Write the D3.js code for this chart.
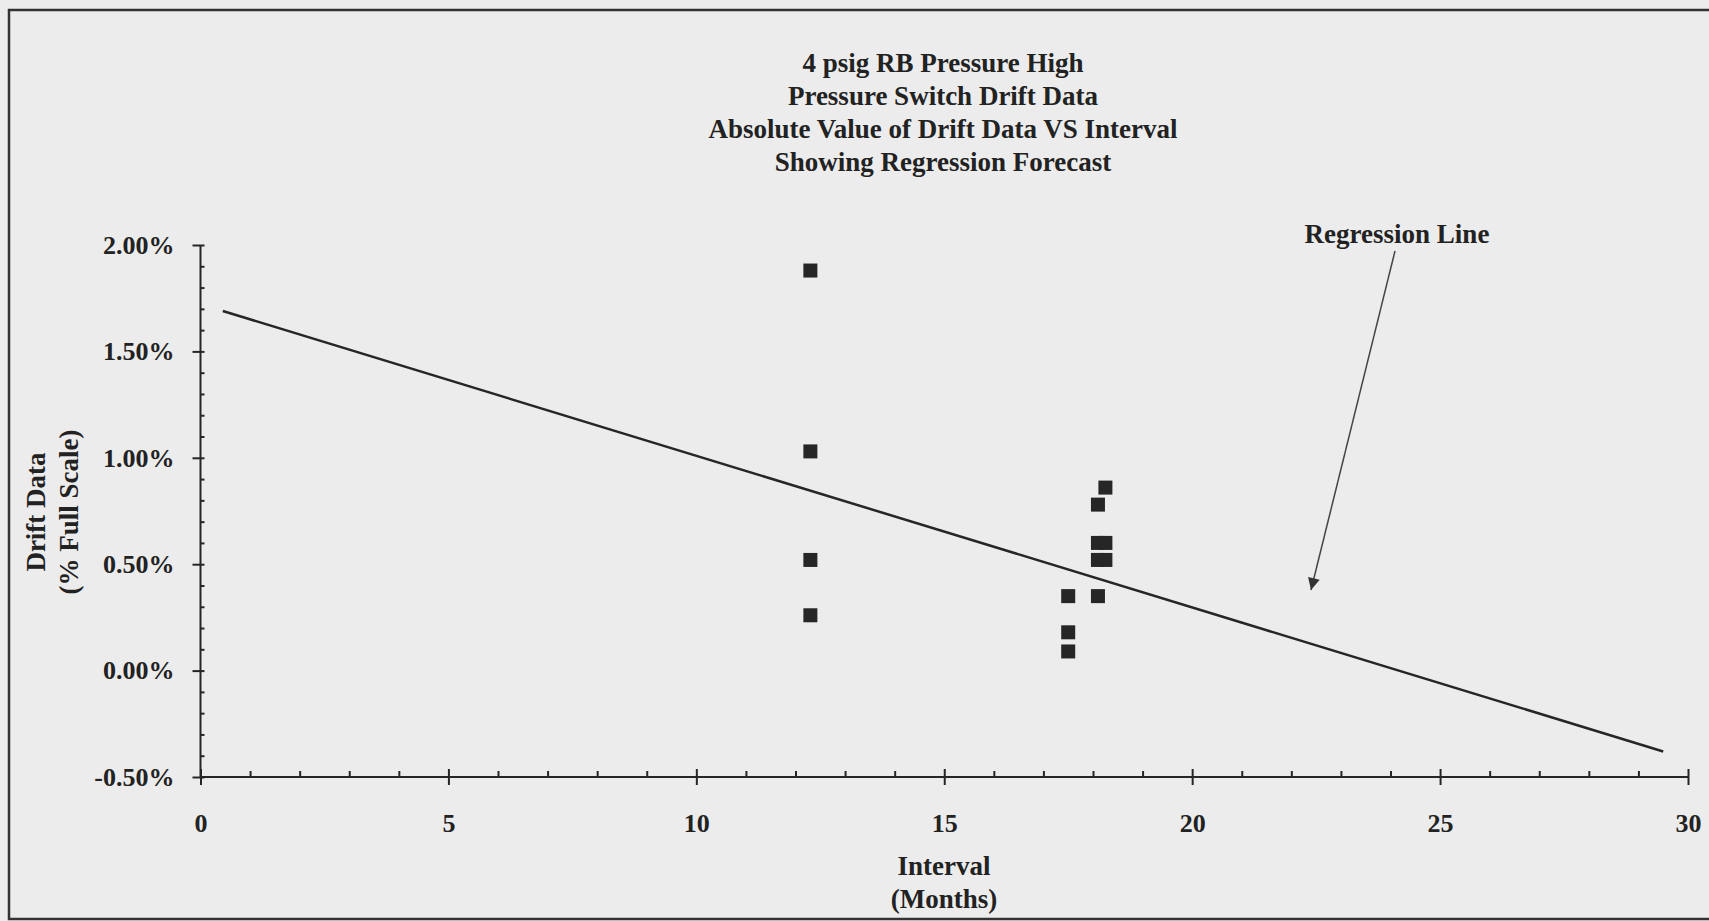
<!DOCTYPE html>
<html>
<head>
<meta charset="utf-8">
<script src="https://cdn.jsdelivr.net/npm/d3@7"></script>
<style>
  body { margin: 0; background: #ececec; }
  svg { display: block; }
  text { font-family: "Liberation Serif", "Times New Roman", serif; font-weight: bold; fill: #222; }
</style>
</head>
<body>
<svg width="1709" height="921"></svg>
<script>
// chart data
const titleLines = ["4 psig RB Pressure High", "Pressure Switch Drift Data",
                    "Absolute Value of Drift Data VS Interval", "Showing Regression Forecast"]
const intervalMonths = [12.3, 12.3, 12.3, 12.3, 17.5, 17.5, 17.5, 18.25, 18.1, 18.1, 18.25, 18.1, 18.25, 18.1]
const driftPct = [1.88, 1.03, 0.52, 0.26, 0.35, 0.18, 0.09, 0.86, 0.78, 0.60, 0.60, 0.52, 0.52, 0.35]
const regressionX = [0.45, 29.5]
const regressionY = [1.69, -0.38]
const xTicks = [0, 5, 10, 15, 20, 25, 30]
const yTicks = [-0.5, 0, 0.5, 1.0, 1.5, 2.0]

const svg = d3.select("svg")
const fontSize = 27

// page frame (scan border)
svg.append("rect")
  .attr("x", 9).attr("y", 10).attr("width", 1720).attr("height", 909)
  .attr("fill", "none").attr("stroke", "#333").attr("stroke-width", 2.5)

const x = d3.scaleLinear().domain([0, 30]).range([200.5, 1688])
const y = d3.scaleLinear().domain([-0.5, 2.0]).range([777, 245])

// title
svg.append("g").selectAll("text")
  .data(titleLines)
  .join("text")
  .attr("x", 943)
  .attr("y", (d, i) => 63 + i * 32.7)
  .attr("dy", "0.35em")
  .attr("text-anchor", "middle")
  .attr("font-size", fontSize)
  .text(d => d)

// x axis: major ticks down + up, minor ticks up
const xMinor = d3.range(1, 30).filter(v => v % 5 !== 0)
const xAxisG = svg.append("g").attr("transform", `translate(0,${y(-0.5)})`)
xAxisG.call(d3.axisBottom(x).tickValues(xTicks).tickSize(8).tickFormat(d3.format("d")))
xAxisG.append("g").call(d3.axisBottom(x).tickValues(xTicks).tickSize(-8).tickFormat(""))
  .select(".domain").remove()
xAxisG.append("g").call(d3.axisBottom(x).tickValues(xMinor).tickSize(-6).tickFormat(""))
  .select(".domain").remove()
xAxisG.selectAll("text")
  .attr("y", 37)
  .attr("font-size", 26)
  .attr("font-family", null)
xAxisG.selectAll(".domain").attr("d", `M${x(0)},0H${x(30)}`)

// y axis
const yMinor = d3.range(-4, 20).map(v => v / 10).filter(v => Math.round(v * 10) % 5 !== 0)
const yAxisG = svg.append("g").attr("transform", `translate(${x(0)},0)`)
yAxisG.call(d3.axisLeft(y).tickValues(yTicks).tickSize(8).tickFormat(d => d.toFixed(2) + "%"))
yAxisG.append("g").call(d3.axisLeft(y).tickValues(yTicks).tickSize(-4).tickFormat(""))
  .select(".domain").remove()
yAxisG.append("g").call(d3.axisLeft(y).tickValues(yMinor).tickSize(-4).tickFormat(""))
  .select(".domain").remove()
yAxisG.selectAll(".domain").attr("d", `M0,${y(-0.5)}V${y(2.0)}`)
yAxisG.selectAll("text")
  .attr("x", -26)
  .attr("font-size", 26)
  .attr("font-family", null)

svg.selectAll(".domain, .tick line").attr("stroke", "#262626").attr("stroke-width", 2)

// axis titles
svg.append("text").attr("x", 944).attr("y", 866).attr("dy", "0.35em")
  .attr("text-anchor", "middle").attr("font-size", fontSize).text("Interval")
svg.append("text").attr("x", 944).attr("y", 899).attr("dy", "0.35em")
  .attr("text-anchor", "middle").attr("font-size", fontSize).text("(Months)")

const yTitle = svg.append("g").attr("transform", "translate(0,512) rotate(-90)")
yTitle.append("text").attr("x", 0).attr("y", 36).attr("dy", "0.35em")
  .attr("text-anchor", "middle").attr("font-size", fontSize).text("Drift Data")
yTitle.append("text").attr("x", 0).attr("y", 69).attr("dy", "0.35em")
  .attr("text-anchor", "middle").attr("font-size", fontSize).text("(% Full Scale)")

// regression line
const line = d3.line().x(d => x(d[0])).y(d => y(d[1]))
svg.append("path")
  .datum(d3.zip(regressionX, regressionY))
  .attr("d", line)
  .attr("fill", "none")
  .attr("stroke", "#262626")
  .attr("stroke-width", 2.5)

// data points
const mk = 14
svg.append("g").selectAll("rect")
  .data(d3.zip(intervalMonths, driftPct))
  .join("rect")
  .attr("x", d => x(d[0]) - mk / 2)
  .attr("y", d => y(d[1]) - mk / 2)
  .attr("width", mk)
  .attr("height", mk)
  .attr("fill", "#262626")

// annotation
svg.append("defs").append("marker")
  .attr("id", "arrow")
  .attr("viewBox", "0 0 10 10")
  .attr("refX", 10).attr("refY", 5)
  .attr("markerWidth", 24).attr("markerHeight", 12)
  .attr("markerUnits", "userSpaceOnUse")
  .attr("orient", "auto")
  .append("path").attr("d", "M0,0L10,5L0,10Z").attr("fill", "#333")

svg.append("text").attr("x", 1397).attr("y", 234).attr("dy", "0.35em")
  .attr("text-anchor", "middle").attr("font-size", fontSize).text("Regression Line")
svg.append("line")
  .attr("x1", 1395).attr("y1", 251).attr("x2", 1311).attr("y2", 590)
  .attr("stroke", "#444").attr("stroke-width", 1.5)
  .attr("marker-end", "url(#arrow)")
</script>
</body>
</html>
